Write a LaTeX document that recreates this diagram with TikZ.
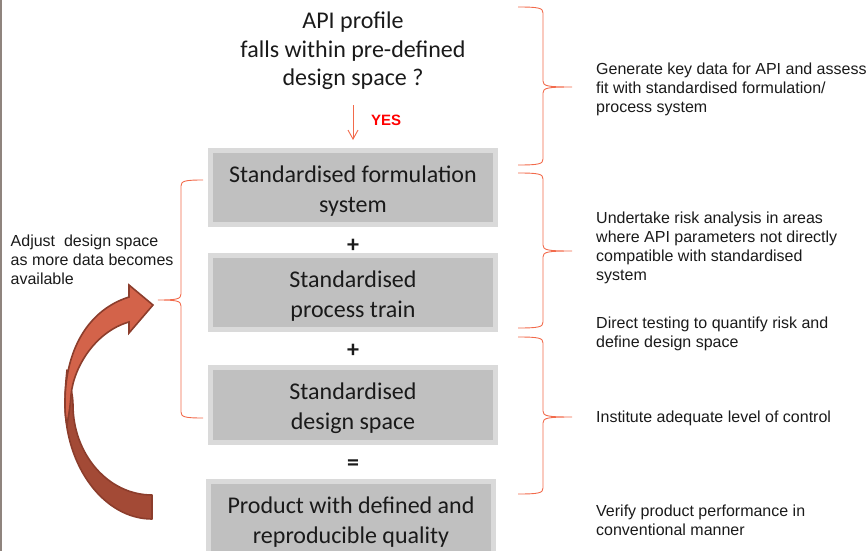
\documentclass[tikz,border=0pt]{standalone}
\usepackage{fontspec}
\setmainfont{Carlito}
\newfontfamily\arialf{Liberation Sans}
\usetikzlibrary{arrows.meta}
\definecolor{boxfill}{HTML}{C0C0C0}
\definecolor{boxedge}{HTML}{DADADA}
\definecolor{bracec}{HTML}{F26A4B}
\definecolor{txt}{HTML}{1A1A1A}
\definecolor{arrowlight}{HTML}{D3634A}
\definecolor{arrowdark}{HTML}{A34A36}
\definecolor{arrowedge}{HTML}{8C3D2C}
\definecolor{leftbar}{HTML}{8F847E}
\definecolor{yesred}{HTML}{FF0000}
\newcommand{\rbrc}[6]{%
  \draw[bracepath] (#1,#4) .. controls ({#2-4},#4) and (#2,{#4+1}) .. (#2,{#4+6})
    -- (#2,{#5-6}) .. controls (#2,{#5-1}) and ({#2+4},#5) .. (#3,#5)
    .. controls ({#2+4},#5) and (#2,{#5+1}) .. (#2,{#5+6})
    -- (#2,{#6-6}) .. controls (#2,{#6-1}) and ({#2-4},#6) .. (#1,#6);}
\newcommand{\topstrut}{\rule{0pt}{24pt}}
\begin{document}
\begin{tikzpicture}[x=1pt,y=-1pt,
  stdbox/.style={fill=boxfill, draw=boxedge, line width=5pt, minimum width=285pt,
    minimum height=74pt, align=center, font=\fontsize{24}{30}\selectfont, text=txt, inner sep=0pt},
  sidetext/.style={anchor=north west, align=left, font=\arialf\fontsize{16}{19}\selectfont,
    text=txt, inner sep=0pt},
  bracepath/.style={draw=bracec, line width=0.9pt},
  opsign/.style={font=\bfseries\fontsize{24}{28}\selectfont, text=txt, inner sep=0pt}]
\useasboundingbox (0,0) rectangle (868,551);
\clip (0,0) rectangle (868,551);
\fill[leftbar] (0,0) rectangle (2,551);

% question
\node[align=center, font=\fontsize{24}{28.3}\selectfont, text=txt, inner sep=0pt, anchor=north]
  (q) at (353,12) {API profile\\falls within pre-defined\\design space ?};

% YES arrow
\coordinate (ya) at (353,105);
\coordinate (yb) at (353,140);
\draw[draw=bracec, line width=0.9pt, -{Straight Barb[length=9pt,width=10pt,line width=0.9pt]}] (ya) -- (yb);
\node[font=\arialf\bfseries\fontsize{15}{17}\selectfont, text=yesred, anchor=base west, inner sep=0pt]
  (yes) at (371,125) {YES};

% boxes
\node[stdbox] (b1) at (353,187.5) {\topstrut Standardised formulation\\system};
\node[opsign] (p1) at (353,246) {+};
\node[stdbox] (b2) at (353,292.5) {\topstrut Standardised\\process train};
\node[opsign] (p2) at (353,351) {+};
\node[stdbox, minimum height=75pt] (b3) at (353,405) {\topstrut Standardised\\design space};
\node[opsign] (p3) at (353,465) {=};
\node[stdbox] (b4) at (351,518) {\topstrut Product with defined and\\reproducible quality};

% right braces
\rbrc{518}{543}{572}{7}{87}{165}
\rbrc{518}{543}{572}{173}{251}{328}
\rbrc{518}{543}{572}{337}{417}{494}

% left brace
\draw[bracepath] (203,180) .. controls (185,180) and (181,181) .. (181,186)
  -- (181,294) .. controls (181,299) and (177,300) .. (158,300)
  .. controls (177,300) and (181,301) .. (181,306)
  -- (181,412) .. controls (181,417) and (185,418) .. (203,418);

% right texts
\node[sidetext] (t1) at (596,62.5) {Generate key data for API and assess\\fit with standardised formulation/\\process system};
\node[sidetext] (t2) at (596,211.5) {Undertake risk analysis in areas\\where API parameters not directly\\compatible with standardised\\system};
\node[sidetext] (t3) at (596,316.5) {Direct testing to quantify risk and\\define design space};
\node[sidetext] (t4) at (596,410.5) {Institute adequate level of control};
\node[sidetext] (t5) at (596,504.5) {Verify product performance in\\conventional manner};

% left text
\node[sidetext] (tl) at (10.5,234.5) {Adjust\ \ design space\\as more data becomes\\available};

% curved arrow
\filldraw[fill=arrowdark, draw=arrowedge, line width=1.6pt, line join=round]
  (152,519) .. controls (104.5,519) and (65,467) .. (65,403)
  .. controls (65,390) and (66,380) .. (67,370)
  .. controls (70,385) and (73,395) .. (73,405)
  .. controls (73,454) and (108,495) .. (152,495) -- cycle;
\filldraw[fill=arrowlight, draw=arrowedge, line width=1.6pt, line join=miter]
  (67,425) .. controls (65,415) and (65,410) .. (65,403)
  .. controls (65,350) and (88,310) .. (129,297)
  -- (129,285) -- (153,305) -- (129,333) -- (129,322)
  .. controls (97,331) and (74,365) .. (71,395)
  .. controls (70,410) and (68,418) .. (67,425) -- cycle;
\end{tikzpicture}
\end{document}
